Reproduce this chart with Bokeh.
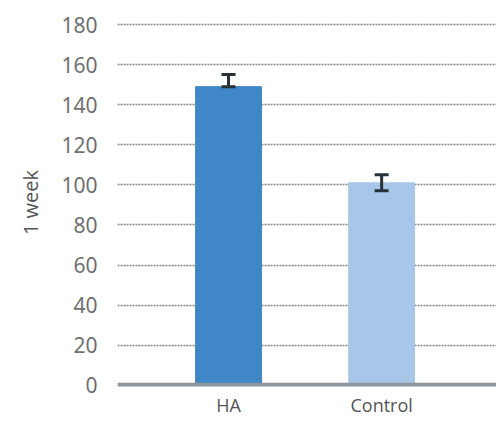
from bokeh.plotting import figure
from bokeh.models import Range1d, FixedTicker, Whisker, ColumnDataSource, Span
from bokeh.embed import file_html
from bokeh.resources import INLINE

categories = ["HA", "Control"]
values = [149, 101]
err_upper = [155, 105]
err_lower = [149, 97]
bar_colors = ["#3f87c6", "#a8c7e8"]
y_ticks = [0, 20, 40, 60, 80, 100, 120, 140, 160, 180]
y_label = "1 week"

xs = list(range(len(categories)))
src = ColumnDataSource(dict(x=xs, top=values, upper=err_upper, lower=err_lower, color=bar_colors))

p = figure(width=496, height=419, output_backend="svg", toolbar_location=None,
           x_range=Range1d(-0.725, 1.75), y_range=Range1d(-0.6, 183),
           min_border_left=117, min_border_right=0, min_border_top=18, min_border_bottom=29)
p.outline_line_color = None
p.background_fill_color = "white"
p.border_fill_color = "white"

p.vbar(x="x", top="top", bottom=0, width=0.43, color="color", source=src)

w = Whisker(base="x", upper="upper", lower="lower", source=src, line_color="#263238", line_width=3,
            level="overlay")
w.upper_head.size = 14
w.lower_head.size = 14
w.upper_head.line_width = 3
w.lower_head.line_width = 3
w.upper_head.line_color = "#263238"
w.lower_head.line_color = "#263238"
p.add_layout(w)

p.add_layout(Span(location=0, dimension="width", line_color="#8d949b", line_width=5))

p.ygrid.ticker = FixedTicker(ticks=y_ticks[1:])
p.ygrid.grid_line_color = "#858585"
p.ygrid.grid_line_dash = "2 1"
p.ygrid.grid_line_width = 1.6
p.xgrid.visible = False

p.yaxis.ticker = FixedTicker(ticks=y_ticks)
p.yaxis.axis_line_color = None
p.yaxis.major_tick_line_color = None
p.yaxis.minor_tick_line_color = None
p.yaxis.major_label_standoff = 14
p.yaxis.major_label_text_font = "Noto Sans"
p.yaxis.major_label_text_font_size = "21px"
p.yaxis.major_label_text_color = "#707070"
p.yaxis.axis_label = y_label
p.yaxis.axis_label_text_font = "Open Sans"
p.yaxis.axis_label_text_font_style = "normal"
p.yaxis.axis_label_text_font_size = "20px"
p.yaxis.axis_label_text_color = "#555555"
p.yaxis.axis_label_standoff = 14

p.xaxis.ticker = FixedTicker(ticks=xs)
p.xaxis.major_label_overrides = {i: c for i, c in zip(xs, categories)}
p.xaxis.axis_line_color = None
p.xaxis.major_tick_line_color = None
p.xaxis.minor_tick_line_color = None
p.xaxis.major_tick_out = 0
p.xaxis.major_tick_in = 0
p.xaxis.minor_tick_out = 0
p.xaxis.minor_tick_in = 0
p.xaxis.major_label_standoff = 6
p.xaxis.major_label_text_font = "Open Sans"
p.xaxis.major_label_text_font_size = "18px"
p.xaxis.major_label_text_color = "#555555"

open("out.html", "w").write(file_html(p, INLINE))
